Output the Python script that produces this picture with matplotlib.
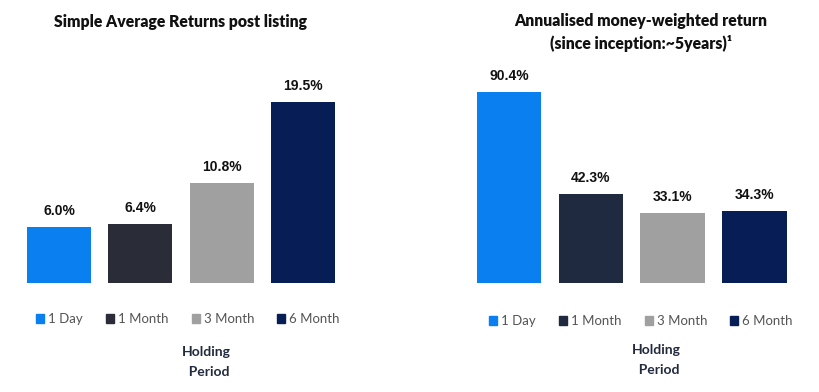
import matplotlib.pyplot as plt
from matplotlib.patches import Patch

periods = ["1 Day", "1 Month", "3 Month", "6 Month"]
simple_avg = [6.0, 6.4, 10.8, 19.5]
money_weighted = [90.4, 42.3, 33.1, 34.3]

left_colors = ["#0a7ff0", "#2a2c38", "#a0a0a0", "#061e55"]
right_colors = ["#0a7ff0", "#1f2940", "#a0a0a0", "#061e55"]

W, H = 820, 392
fig = plt.figure(figsize=(W / 100, H / 100), dpi=100)


def px_axes(x0, x1, y_top, y_base):
    return fig.add_axes([x0 / W, 1 - y_base / H, (x1 - x0) / W, (y_base - y_top) / H])


def draw_panel(ax, values, colors, xlim, ylim):
    x = range(len(values))
    bars = ax.bar(x, values, width=0.79, color=colors)
    for b, v in zip(bars, values):
        ax.annotate(f"{v:.1f}%", (b.get_x() + b.get_width() / 2, v),
                    xytext=(0, 9), textcoords="offset pixels",
                    ha="center", va="bottom", fontsize=10,
                    fontweight="bold", family="Liberation Sans", color="#111111")
    ax.set_xlim(*xlim)
    ax.set_ylim(*ylim)
    ax.axis("off")
    return bars


ax1 = px_axes(10, 355, 60, 283)
draw_panel(ax1, simple_avg, left_colors, (-0.603, 3.64), (0, 24.0))

ax2 = px_axes(460, 805, 60, 283)
draw_panel(ax2, money_weighted, right_colors, (-0.6, 3.62), (0, 105.7))

title_kw = dict(fontsize=11.3, fontweight="heavy", family="Lato", color="#111111", ha="center", va="center")
fig.text(181 / W, 1 - 22 / H, "Simple Average Returns post listing", **title_kw)
fig.text(641 / W, 1 - 21 / H, "Annualised money-weighted return", **title_kw)
fig.text(641 / W, 1 - 43 / H, "(since inception:~5years)\u00b9", **title_kw)

for colors, cx, cy in [(left_colors, 188, 319), (right_colors, 641, 321)]:
    handles = [Patch(color=c, label=p) for c, p in zip(colors, periods)]
    fig.legend(handles=handles, loc="center", bbox_to_anchor=(cx / W, 1 - cy / H),
               ncol=4, frameon=False, handlelength=0.6, handleheight=0.6,
               handletextpad=0.3, columnspacing=1.75,
               prop={"family": "Lato", "size": 9.5}, labelcolor="#555555")

hp_kw = dict(fontsize=10, fontweight="bold", family="Lato", color="#222a3e", ha="center", va="center", linespacing=1.7)
fig.text(206 / W, 1 - 362 / H, "Holding\n  Period", **hp_kw)
fig.text(656 / W, 1 - 360 / H, "Holding\n  Period", **hp_kw)

fig.savefig("out.png", dpi=100)
